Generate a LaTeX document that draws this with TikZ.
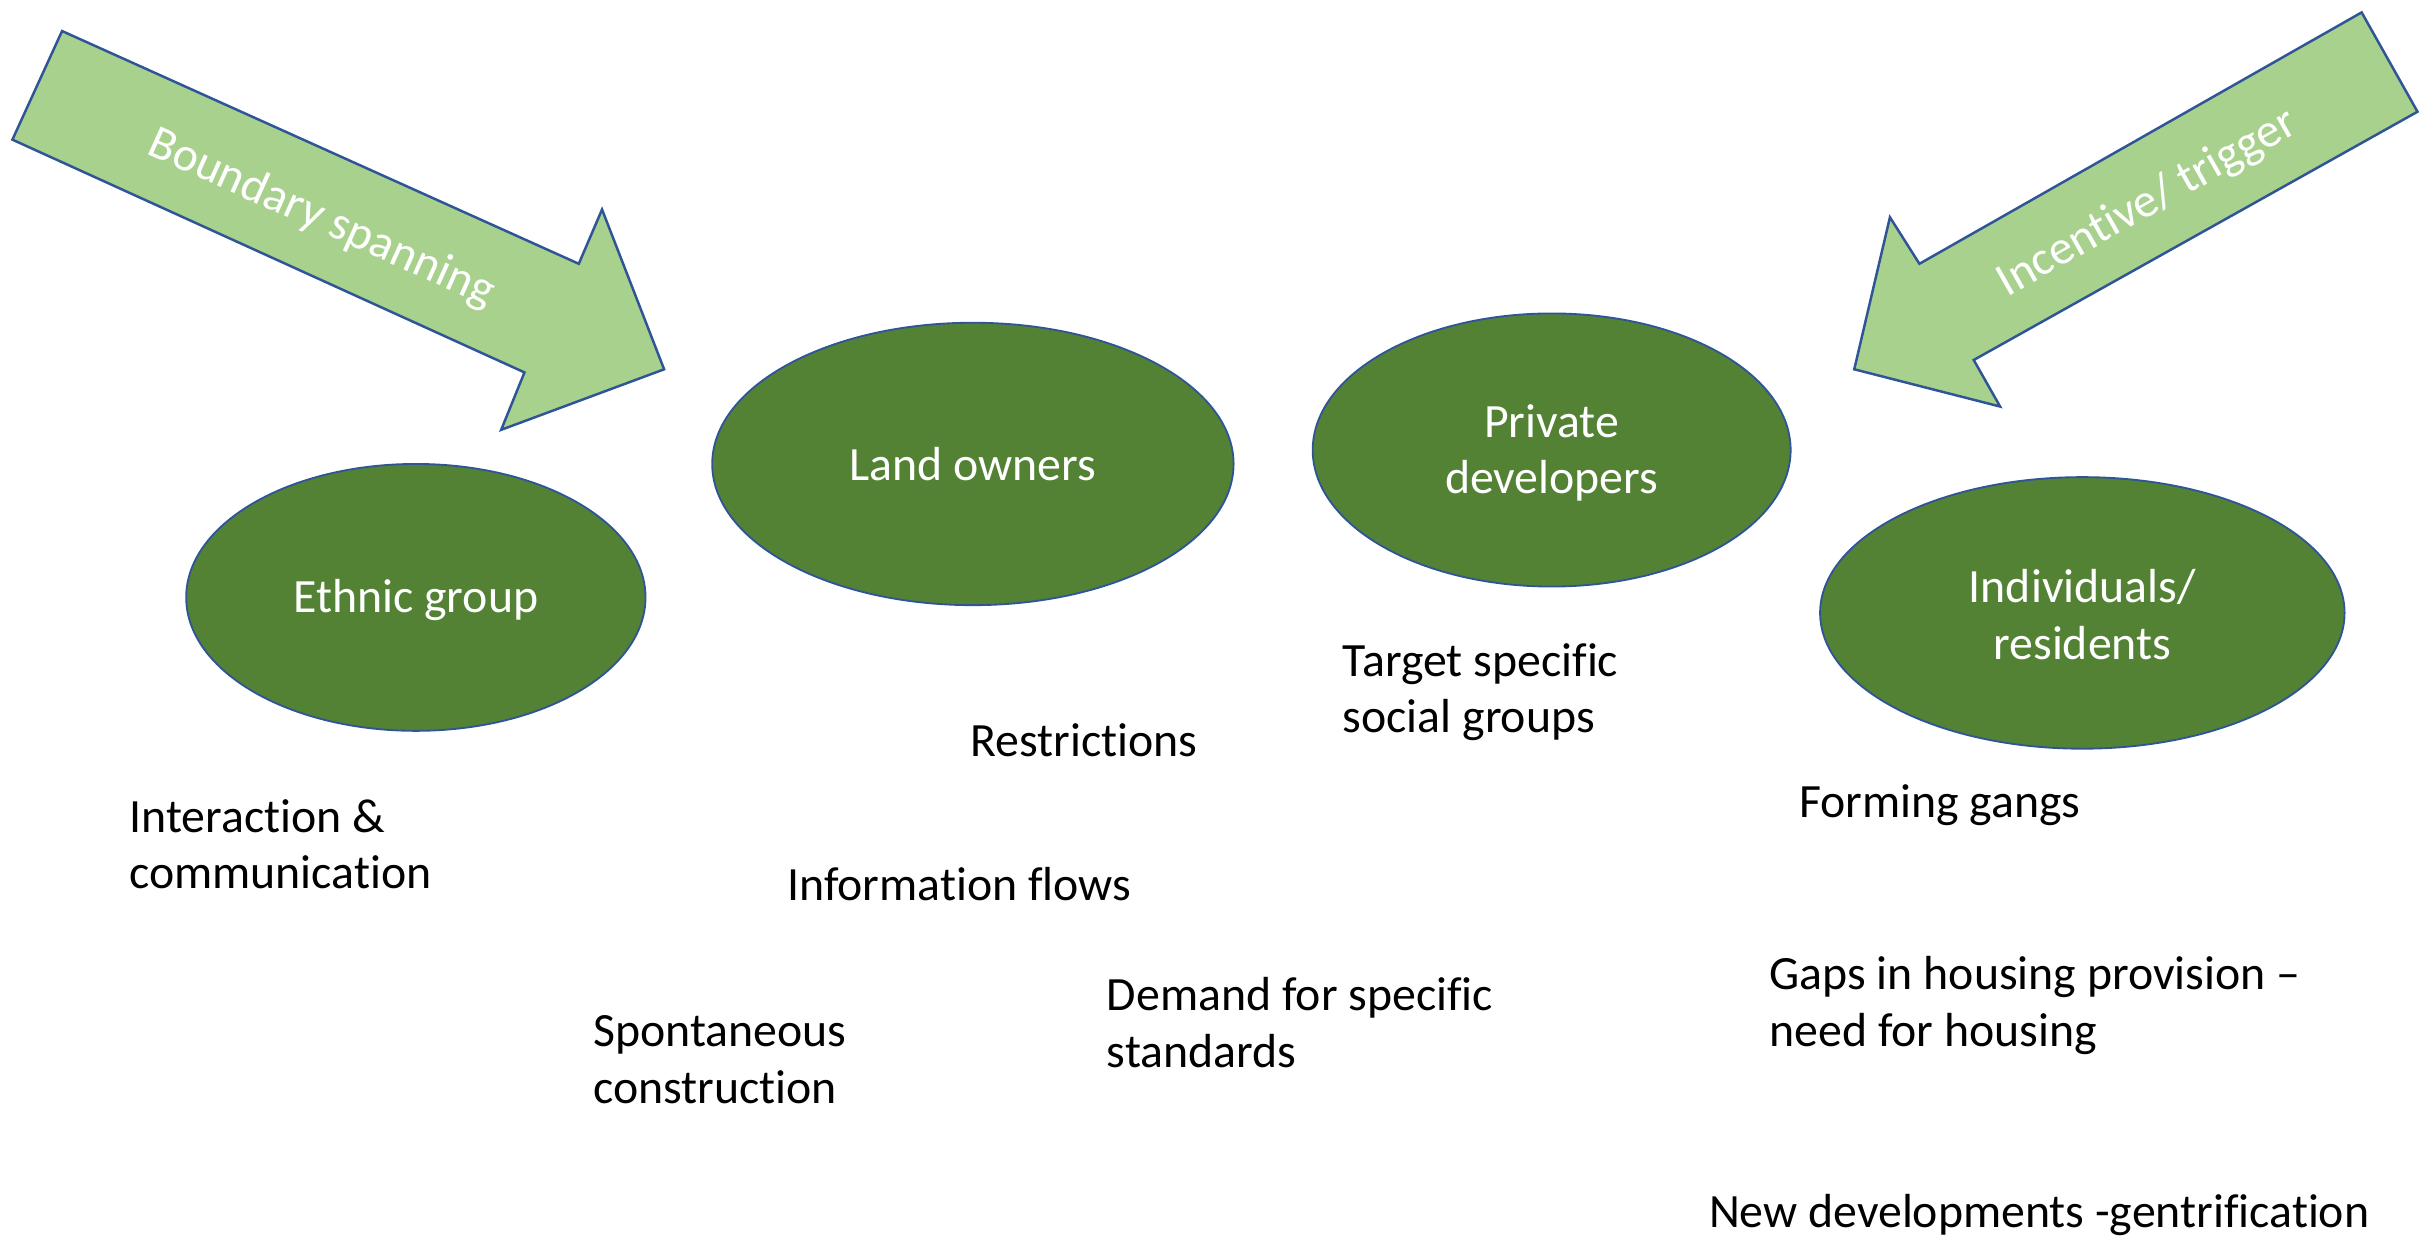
\documentclass[tikz,border=0pt]{standalone}
\usepackage{fontspec}
\setmainfont{Carlito}[Ligatures=NoCommon]
\usetikzlibrary{shapes.geometric}
\definecolor{darkgreen}{HTML}{548235}
\definecolor{lightgreen}{HTML}{A9D18E}
\definecolor{edgeblue}{HTML}{2F5597}
\tikzset{
  actor/.style={ellipse, fill=darkgreen, draw=edgeblue, line width=0.6pt, inner sep=0pt},
  actortext/.style={text=white, align=center, inner sep=0pt, font=\fontsize{15.4}{18.2}\selectfont},
  label/.style={anchor=west, align=left, inner sep=0pt, text=black,
    font=\fontsize{15.4}{18.2}\selectfont},
  bigarrow/.style={fill=lightgreen, draw=edgeblue, line width=0.8pt, line join=miter},
  arrowtext/.style={text=white, inner sep=0pt, font=\fontsize{15.4}{18.2}\selectfont}
}
\begin{document}
\begin{tikzpicture}[x=0.5pt,y=-0.5pt]
\useasboundingbox (0,0) rectangle (1568,798);
% arrows
\draw[bigarrow] (40,20) -- (373,170) -- (388,135) -- (428,238) -- (323,277) -- (338,240) -- (8,90) -- cycle;
\node[arrowtext, rotate=-24.2] (bs) at (207,141) {Boundary spanning};
\draw[bigarrow] (1522,8) -- (1237,170) -- (1218,140) -- (1195,238) -- (1289,262) -- (1272,232) -- (1558,72) -- cycle;
\node[arrowtext, rotate=29.6] (it) at (1384,131) {Incentive/ trigger};
% actors
\node[actor, minimum width=148pt, minimum height=86pt] (ethnic) at (268,385) {};
\node[actortext] (ethnic-t) at (268,387) {Ethnic group};
\node[actor, minimum width=168pt, minimum height=91pt] (land) at (627,299) {};
\node[actortext] (land-t) at (627,299) {Land owners};
\node[actor, minimum width=154pt, minimum height=88pt] (priv) at (1000,290) {};
\node[actortext] (priv-t) at (1000,292) {Private\\developers};
\node[actor, minimum width=169pt, minimum height=87.5pt] (indiv) at (1342,395) {};
\node[actortext] (indiv-t) at (1342,396) {Individuals/\\residents};
% labels
\node[label] (l1) at (83,544) {Interaction \&\\communication};
\node[label] (l2) at (625,477) {Restrictions};
\node[label] (l3) at (865,446) {Target specific\\social groups};
\node[label] (l4) at (507,570) {Information flows};
\node[label] (l5) at (1159,519) {Forming gangs};
\node[label] (l6) at (382,683) {Spontaneous\\construction};
\node[label] (l7) at (713,659) {Demand for specific\\standards};
\node[label] (l8) at (1140,648) {Gaps in housing provision –\\need for housing};
\node[label] (l9) at (1101,783) {New developments -gentrification};
\end{tikzpicture}
\end{document}
